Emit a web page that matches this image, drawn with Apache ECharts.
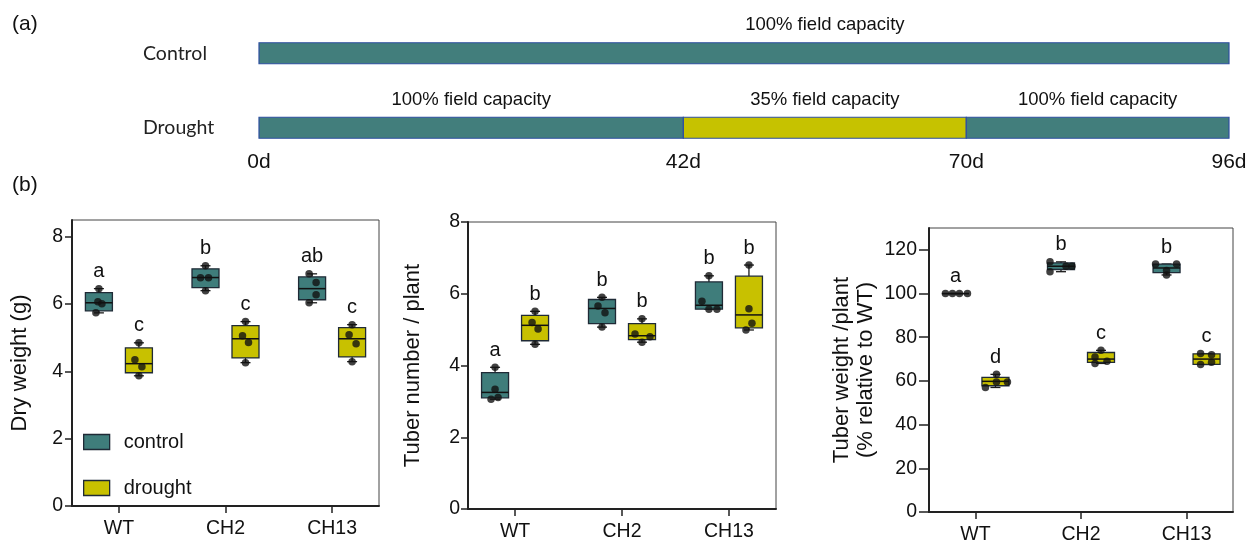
<!DOCTYPE html>
<html><head><meta charset="utf-8">
<script src="https://cdn.jsdelivr.net/npm/echarts@6/dist/echarts.min.js"></script>
<style>html,body{margin:0;padding:0;background:#fff}#c{width:1254px;height:545px}</style>
</head><body><div id="c"></div><script>
// ---------- Panel (a): watering regime ----------
const phaseDays = [0, 42, 70, 96];
const rowNames = ['Drought', 'Control'];
const controlStart = [0], controlEnd = [96], controlWater = [100];
const droughtStart = [0, 42, 70], droughtEnd = [42, 70, 96], droughtWater = [100, 35, 100];

// ---------- Panel (b) ----------
const genotypes = ['WT', 'CH2', 'CH13'];
const groupNames = ['control', 'drought'];
// Dry weight (g): points and box stats [min, q1, median, q3, max]
const dwCtrlPts = [[6.46, 6.07, 6.01, 5.74], [7.14, 6.78, 6.78, 6.40], [6.90, 6.64, 6.28, 6.04]];
const dwCtrlBox = [[5.74, 5.80, 6.04, 6.34, 6.46], [6.40, 6.49, 6.79, 7.05, 7.14], [6.04, 6.13, 6.46, 6.81, 6.90]];
const dwDrtPts = [[4.85, 4.35, 4.14, 3.87], [5.48, 5.06, 4.86, 4.26], [5.39, 5.09, 4.82, 4.29]];
const dwDrtBox = [[3.87, 3.96, 4.23, 4.70, 4.85], [4.26, 4.40, 4.97, 5.36, 5.48], [4.29, 4.43, 4.97, 5.30, 5.39]];
const dwCtrlLetters = ['a', 'b', 'ab'];
const dwDrtLetters = ['c', 'c', 'c'];
const dwTicks = [0, 2, 4, 6, 8];
// Tuber number / plant
const tnCtrlPts = [[3.95, 3.34, 3.11, 3.06], [5.90, 5.66, 5.47, 5.07], [6.50, 5.79, 5.57, 5.57]];
const tnCtrlBox = [[3.06, 3.10, 3.25, 3.80, 3.95], [5.07, 5.17, 5.59, 5.84, 5.90], [5.57, 5.57, 5.68, 6.33, 6.50]];
const tnDrtPts = [[5.51, 5.20, 5.02, 4.59], [5.30, 4.88, 4.80, 4.65], [6.80, 5.58, 5.18, 4.99]];
const tnDrtBox = [[4.59, 4.69, 5.12, 5.40, 5.51], [4.65, 4.72, 4.83, 5.17, 5.30], [4.99, 5.05, 5.41, 6.49, 6.80]];
const tnCtrlLetters = ['a', 'b', 'b'];
const tnDrtLetters = ['b', 'b', 'b'];
const tnTicks = [0, 2, 4, 6, 8];
// Tuber weight / plant (% relative to WT)
const twCtrlPts = [[100, 100, 100, 100], [114.5, 112.5, 112.5, 110], [113.5, 113.5, 110.5, 108.5]];
const twCtrlBox = [[100, 100, 100, 100, 100], [110, 111, 112.5, 114, 114.5], [108.5, 109.6, 111.7, 113.5, 113.5]];
const twDrtPts = [[63, 59.5, 59.5, 57], [74, 71, 69, 68], [72.5, 72, 68.5, 67.5]];
const twDrtBox = [[57, 57.8, 59.8, 61.6, 63], [68, 68.5, 70, 73, 74], [67.5, 67.6, 70, 72.4, 72.5]];
const twCtrlLetters = ['a', 'b', 'b'];
const twDrtLetters = ['d', 'c', 'c'];
const twTicks = [0, 20, 40, 60, 80, 100, 120];

// ---------- styling (horizontal jitter of dots, px) ----------
const jitter = {
  dwC: [[0, -1, 3, -3], [0, -5, 3, 0], [-3, 4, 4, -3]],
  dwD: [[0, -4, 3, 0], [0, -3, 3, 0], [0, -3, 4, 0]],
  tnC: [[0, 0, 3, -4], [0, -4, 3, 0], [0, -7, 0, 8]],
  tnD: [[0, -3, 3, 0], [0, -7, 8, 0], [0, 0, 3, -3]],
  twC: [[-10, -3, 4, 12], [-11, 5, 11, -11], [-11, 10, 0, 0]],
  twD: [[1, 1, 12, -10], [0, -6, 6, -6], [-6, 5, 5, -6]]
};
const FONT = '"Liberation Sans", Arial, sans-serif';
const TEAL = '#3F7D7B', YELLOW = '#C8C100';
const TEAL_A = '#427E7C', YELLOW_A = '#C6C200';
const GOFF = 20, BOXW = 27, CAPW = 10;

function boxSeries(name, grid, boxes, letters, offset, color) {
  return {
    type: 'custom', name: name, xAxisIndex: grid, yAxisIndex: grid, z: 2, silent: true,
    data: boxes.map((b, i) => [i].concat(b)),
    encode: { x: 0, y: [1, 2, 3, 4, 5] },
    itemStyle: { color: color },
    renderItem: function (params, api) {
      const c = api.value(0);
      const x = api.coord([c, 0])[0] + offset;
      const py = k => api.coord([c, api.value(k)])[1];
      const yMin = py(1), yQ1 = py(2), yMed = py(3), yQ3 = py(4), yMax = py(5);
      const ls = { stroke: '#1a1a1a', lineWidth: 1.3 };
      return { type: 'group', children: [
        { type: 'line', shape: { x1: x, y1: yMax, x2: x, y2: yQ3 }, style: ls },
        { type: 'line', shape: { x1: x, y1: yQ1, x2: x, y2: yMin }, style: ls },
        { type: 'line', shape: { x1: x - CAPW / 2, y1: yMax, x2: x + CAPW / 2, y2: yMax }, style: ls },
        { type: 'line', shape: { x1: x - CAPW / 2, y1: yMin, x2: x + CAPW / 2, y2: yMin }, style: ls },
        { type: 'rect', shape: { x: x - BOXW / 2, y: yQ3, width: BOXW, height: yQ1 - yQ3 }, style: { fill: color, stroke: '#1f2a36', lineWidth: 1.3 } },
        { type: 'line', shape: { x1: x - BOXW / 2, y1: yMed, x2: x + BOXW / 2, y2: yMed }, style: { stroke: '#111', lineWidth: 1.5 } },
        { type: 'text', x: x, y: yMax - 7, style: { text: letters[params.dataIndex], align: 'center', verticalAlign: 'bottom', fontSize: 20, fontFamily: FONT, fill: '#111' } }
      ] };
    }
  };
}
function pointSeries(name, grid, pts, jit, offset) {
  const data = [];
  pts.forEach((arr, i) => arr.forEach((v, j) => data.push({ value: [i, v], symbolOffset: [offset + jit[i][j], 0] })));
  return { type: 'scatter', name: name, xAxisIndex: grid, yAxisIndex: grid, data: data, symbolSize: 7.5, itemStyle: { color: '#111' }, z: 5, silent: true };
}
function xAxisB(grid) {
  return {
    gridIndex: grid, type: 'value', min: -0.44, max: 2.44,
    axisLine: { show: true, onZero: false, lineStyle: { color: '#222', width: 2 } },
    axisTick: { show: true, length: 7, customValues: [0, 1, 2], lineStyle: { color: '#222', width: 1.5 } },
    axisLabel: { customValues: [0, 1, 2], formatter: v => genotypes[Math.round(v)], margin: 13, fontSize: 19.5, fontFamily: FONT, color: '#111' },
    splitLine: { show: false }
  };
}
function yAxisB(grid, max, ticks, name, gap, tickLen, margin) {
  return {
    gridIndex: grid, type: 'value', min: 0, max: max,
    name: name, nameLocation: 'middle', nameGap: gap, nameRotate: 90,
    nameTextStyle: { fontSize: 22, fontFamily: FONT, color: '#111', lineHeight: 24 },
    axisLine: { show: true, onZero: false, lineStyle: { color: '#222', width: 2 } },
    axisTick: { show: true, length: tickLen, customValues: ticks, lineStyle: { color: '#222', width: 1.5 } },
    axisLabel: { customValues: ticks, margin: margin, fontSize: 19.5, fontFamily: FONT, color: '#111' },
    splitLine: { show: false }
  };
}

// Panel (a) series data
const phaseData = [];
controlStart.forEach((s, i) => phaseData.push([s, controlEnd[i], 1, controlWater[i]]));
droughtStart.forEach((s, i) => phaseData.push([s, droughtEnd[i], 0, droughtWater[i]]));
// label anchors: drought phases at their centers; control label over the drought stress phase
const labelData = [];
labelData.push([(droughtStart[1] + droughtEnd[1]) / 2, 1, controlWater[0]]);
droughtStart.forEach((s, i) => labelData.push([(s + droughtEnd[i]) / 2, 0, droughtWater[i]]));

const chart = echarts.init(document.getElementById('c'), null, { renderer: 'canvas' });
chart.setOption({
  backgroundColor: '#fff',
  animation: false,
  title: [
    { text: '(a)', left: 12, top: 14, padding: 0, textStyle: { fontSize: 21, fontWeight: 'normal', fontFamily: FONT, color: '#111' } },
    { text: '(b)', left: 12, top: 175, padding: 0, textStyle: { fontSize: 21, fontWeight: 'normal', fontFamily: FONT, color: '#111' } }
  ],
  legend: {
    left: 83, top: 431, orient: 'vertical', padding: 0, itemWidth: 26, itemHeight: 15, itemGap: 24,
    textStyle: { fontSize: 20, fontFamily: FONT, color: '#111', lineHeight: 22, padding: [0, 0, 0, 9] },
    data: [
      { name: 'control', icon: 'rect', itemStyle: { color: TEAL, borderColor: '#1f2a36', borderWidth: 1.3 } },
      { name: 'drought', icon: 'rect', itemStyle: { color: YELLOW, borderColor: '#1f2a36', borderWidth: 1.3 } }
    ]
  },
  grid: [
    { left: 259, top: 16, width: 970, height: 149, show: false },
    { left: 72, top: 220, width: 307, height: 286, show: true, borderColor: '#444', borderWidth: 1 },
    { left: 468, top: 222, width: 308, height: 287, show: true, borderColor: '#444', borderWidth: 1 },
    { left: 929, top: 228, width: 304, height: 286, show: true, borderColor: '#444', borderWidth: 1 }
  ],
  xAxis: [
    { gridIndex: 0, type: 'value', min: phaseDays[0], max: phaseDays[phaseDays.length - 1], offset: -26,
      axisLine: { show: false }, axisTick: { show: false }, splitLine: { show: false },
      axisLabel: { customValues: phaseDays, formatter: '{value}d', margin: 13, fontSize: 21, fontFamily: FONT, color: '#111' } },
    xAxisB(1), xAxisB(2), xAxisB(3)
  ],
  yAxis: [
    { gridIndex: 0, type: 'category', data: rowNames, axisLine: { show: false }, axisTick: { show: false },
      axisLabel: { align: 'left', margin: 116, fontSize: 19.5, fontFamily: 'Lato, "Open Sans", sans-serif', color: '#222' } },
    yAxisB(1, 8.5, dwTicks, 'Dry weight (g)', 40, 7, 9),
    yAxisB(2, 8, tnTicks, 'Tuber number / plant', 43, 7, 8),
    yAxisB(3, 130, twTicks, 'Tuber weight /plant\n(% relative to WT)', 51, 10, 12)
  ],
  series: [
    { type: 'custom', name: 'phases', xAxisIndex: 0, yAxisIndex: 0, silent: true, data: phaseData,
      encode: { x: [0, 1], y: 2 },
      renderItem: function (params, api) {
        const s = api.coord([api.value(0), api.value(2)]);
        const e = api.coord([api.value(1), api.value(2)]);
        const h = 21;
        return { type: 'rect', shape: { x: s[0], y: s[1] - h / 2, width: e[0] - s[0], height: h },
          style: { fill: api.value(3) < 100 ? YELLOW_A : TEAL_A, stroke: '#2E4FA0', lineWidth: 1.2 } };
      } },
    { type: 'custom', name: 'phaseLabels', xAxisIndex: 0, yAxisIndex: 0, silent: true, data: labelData,
      encode: { x: 0, y: 1 },
      renderItem: function (params, api) {
        const p = api.coord([api.value(0), api.value(1)]);
        return { type: 'text', x: p[0], y: p[1] - 10.5 - 8,
          style: { text: api.value(2) + '% field capacity', align: 'center', verticalAlign: 'bottom', fontSize: 18.5, fontFamily: FONT, fill: '#111' } };
      } },
    boxSeries('control', 1, dwCtrlBox, dwCtrlLetters, -GOFF, TEAL),
    boxSeries('drought', 1, dwDrtBox, dwDrtLetters, GOFF, YELLOW),
    pointSeries('control', 1, dwCtrlPts, jitter.dwC, -GOFF),
    pointSeries('drought', 1, dwDrtPts, jitter.dwD, GOFF),
    boxSeries('control', 2, tnCtrlBox, tnCtrlLetters, -GOFF, TEAL),
    boxSeries('drought', 2, tnDrtBox, tnDrtLetters, GOFF, YELLOW),
    pointSeries('control', 2, tnCtrlPts, jitter.tnC, -GOFF),
    pointSeries('drought', 2, tnDrtPts, jitter.tnD, GOFF),
    boxSeries('control', 3, twCtrlBox, twCtrlLetters, -GOFF, TEAL),
    boxSeries('drought', 3, twDrtBox, twDrtLetters, GOFF, YELLOW),
    pointSeries('control', 3, twCtrlPts, jitter.twC, -GOFF),
    pointSeries('drought', 3, twDrtPts, jitter.twD, GOFF)
  ]
});
</script></body></html>
